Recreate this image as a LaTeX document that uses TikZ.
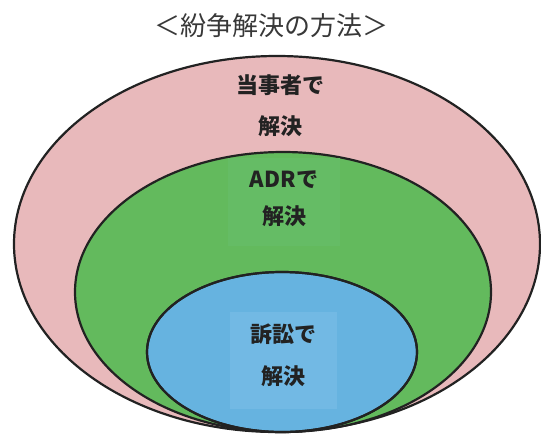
\documentclass[tikz,border=0pt]{standalone}
\usepackage{fontspec}
\newfontfamily\jp{Noto Sans CJK JP}
\definecolor{pinkfill}{HTML}{E8B9BB}
\definecolor{greenfill}{HTML}{63BA5D}
\definecolor{greenpatch}{HTML}{65BC65}
\definecolor{bluefill}{HTML}{66B3E0}
\definecolor{bluepatch}{HTML}{72B9E4}
\definecolor{ink}{HTML}{222222}
\begin{document}
\begin{tikzpicture}[x=1pt,y=-1pt,
  ring/.style={draw=ink,line width=2.2pt},
  lab/.style={text=ink,font=\jp\bfseries\fontsize{22}{26}\selectfont,inner sep=0pt}]
\useasboundingbox (0,0) rectangle (541,437);
\node[font=\jp\fontsize{26}{30}\selectfont,text=ink!90] (title) at (271,26) {＜紛争解決の方法＞};
\draw[ring,fill=pinkfill] (277,244) ellipse [x radius=263,y radius=188];
\draw[ring,fill=greenfill] (283,292) ellipse [x radius=208,y radius=140];
\fill[greenpatch] (228,158) rectangle (340,246);
\draw[ring,fill=bluefill] (282,352) ellipse [x radius=135,y radius=80];
\fill[bluepatch] (230,312) rectangle (337,409);
\draw[ring] (282,352) ellipse [x radius=135,y radius=80];
\node[lab] (p1) at (280,85) {当事者で};
\node[lab] (p2) at (280,126) {解決};
\node[lab] (a1) at (284,180) {ADRで};
\node[lab] (a2) at (284,216) {解決};
\node[lab] (s1) at (283,334) {訴訟で};
\node[lab] (s2) at (283,376) {解決};
\end{tikzpicture}
\end{document}
